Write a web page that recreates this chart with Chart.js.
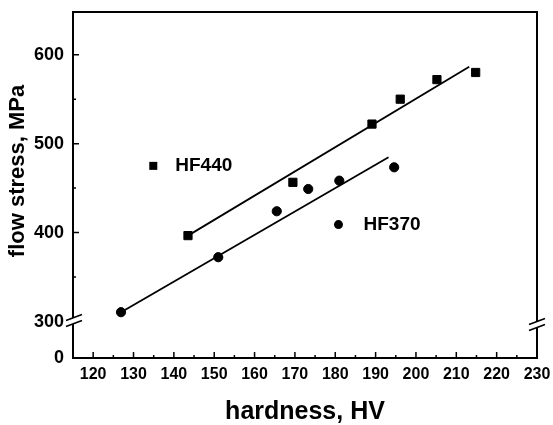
<!DOCTYPE html>
<html>
<head>
<meta charset="utf-8">
<script src="https://cdn.jsdelivr.net/npm/chart.js@4.4.0/dist/chart.umd.min.js"></script>
<style>
  html, body { margin: 0; padding: 0; background: #fff; }
</style>
</head>
<body>
<canvas id="chart" width="553" height="425"></canvas>
<script>
// valores
const seriesLabels = ["HF440", "HF370"];
const hf440Hardness = [143.5, 169.5, 189.1, 196.1, 205.2, 214.8];
const hf440Stress = [396.6, 456.5, 522, 550, 572, 580];
const hf370Hardness = [126.9, 151.0, 165.5, 173.3, 181.0, 194.6];
const hf370Stress = [310.5, 372.3, 424, 449, 458.4, 473.4];
// retas de ajuste (extremos)
const fit440Hardness = [143.5, 213.2];
const fit440Stress = [396.6, 586.5];
const fit370Hardness = [126.9, 193.2];
const fit370Stress = [310.5, 484.6];
// eixos
const xTickValues = [120, 130, 140, 150, 160, 170, 180, 190, 200, 210, 220, 230];
const yTickValues = [300, 400, 500, 600];
const X_MIN = 115, X_MAX = 230;
const Y_MIN = 259, Y_MAX = 648;   // eixo quebrado: o fundo vale "0"
const Y_BREAK = 300;

// posição das legendas internas (em unidades de dados)
const legendPos = [{ x: 134.9, y: 475, dx: 22 }, { x: 180.8, y: 409, dx: 25 }];

const FONT = "'Liberation Sans', Arial, sans-serif";
Chart.defaults.font.family = FONT;
Chart.defaults.color = "#000";

const toPoints = (xs, ys) => xs.map((x, i) => ({ x: x, y: ys[i] }));

const framePlugin = {
  id: "frame",
  afterDraw(chart) {
    const { ctx, chartArea: a, scales: { x, y } } = chart;
    ctx.save();
    ctx.strokeStyle = "#000";
    ctx.lineWidth = 2;
    ctx.strokeRect(a.left, a.top, a.right - a.left, a.bottom - a.top);

    // ticks para dentro
    ctx.lineWidth = 1.5;
    ctx.beginPath();
    for (let v = 120; v < X_MAX; v += 5) {
      const px = x.getPixelForValue(v);
      const len = v % 10 === 0 ? 6 : 3;
      ctx.moveTo(px, a.bottom);
      ctx.lineTo(px, a.bottom - len);
    }
    for (let v = 350; v < Y_MAX; v += 50) {
      const py = y.getPixelForValue(v);
      const len = v % 100 === 0 ? 6 : 3;
      ctx.moveTo(a.left, py);
      ctx.lineTo(a.left + len, py);
    }
    ctx.stroke();

    // quebras do eixo y
    const drawBreak = (cx, cy) => {
      ctx.fillStyle = "#fff";
      ctx.beginPath();
      ctx.moveTo(cx - 8, cy - 1);
      ctx.lineTo(cx + 8, cy - 7);
      ctx.lineTo(cx + 8, cy - 1);
      ctx.lineTo(cx - 8, cy + 5);
      ctx.closePath();
      ctx.fill();
      ctx.lineWidth = 1.6;
      ctx.beginPath();
      ctx.moveTo(cx - 8, cy - 1);
      ctx.lineTo(cx + 8, cy - 7);
      ctx.moveTo(cx - 8, cy + 5);
      ctx.lineTo(cx + 8, cy - 1);
      ctx.stroke();
    };
    const yb = y.getPixelForValue(Y_BREAK);
    drawBreak(a.left + 1, yb);
    drawBreak(a.right, yb + 4);

    // legendas internas
    ctx.fillStyle = "#000";
    ctx.font = "bold 19px " + FONT;
    ctx.textBaseline = "middle";
    legendPos.forEach((p, i) => {
      const px = x.getPixelForValue(p.x);
      const py = y.getPixelForValue(p.y);
      if (i === 0) {
        ctx.fillRect(px - 4, py - 4, 8, 8);
      } else {
        ctx.beginPath();
        ctx.arc(px, py, 4.5, 0, Math.PI * 2);
        ctx.fill();
      }
      ctx.fillText(seriesLabels[i], px + p.dx, py);
    });

    // título do eixo y
    ctx.translate(18, 171);
    ctx.rotate(-Math.PI / 2);
    ctx.font = "bold 22px " + FONT;
    ctx.textAlign = "center";
    ctx.fillText("flow stress, MPa", 0, 0);
    ctx.restore();
  }
};

new Chart(document.getElementById("chart"), {
  type: "scatter",
  data: {
    datasets: [
      {
        label: "HF440 fit",
        data: toPoints(fit440Hardness, fit440Stress),
        showLine: true,
        borderColor: "#000",
        borderWidth: 1.8,
        pointRadius: 0
      },
      {
        label: "HF370 fit",
        data: toPoints(fit370Hardness, fit370Stress),
        showLine: true,
        borderColor: "#000",
        borderWidth: 1.8,
        pointRadius: 0
      },
      {
        label: seriesLabels[0],
        data: toPoints(hf440Hardness, hf440Stress),
        pointStyle: "rect",
        pointRadius: 5.8,
        backgroundColor: "#000",
        borderColor: "#000"
      },
      {
        label: seriesLabels[1],
        data: toPoints(hf370Hardness, hf370Stress),
        pointStyle: "circle",
        pointRadius: 4.6,
        backgroundColor: "#000",
        borderColor: "#000"
      }
    ]
  },
  options: {
    responsive: false,
    devicePixelRatio: 1,
    animation: false,
    layout: { autoPadding: false, padding: { top: 12, right: 16, left: 0, bottom: 0 } },
    plugins: { legend: { display: false }, tooltip: { enabled: false } },
    scales: {
      x: {
        type: "linear",
        min: X_MIN,
        max: X_MAX,
        grid: { display: false, drawTicks: false, tickLength: 0 },
        border: { display: false },
        afterBuildTicks: s => { s.ticks = xTickValues.map(v => ({ value: v })); },
        afterFit: s => { s.height = 67; s.paddingLeft = 0; s.paddingRight = 0; },
        ticks: { font: { size: 16, weight: "bold" }, padding: 7, maxRotation: 0, autoSkip: false },
        title: {
          display: true,
          text: "hardness, HV",
          font: { size: 25, weight: "bold", lineHeight: 1.0 },
          padding: 0
        }
      },
      y: {
        type: "linear",
        min: Y_MIN,
        max: Y_MAX,
        grid: { display: false, drawTicks: false, tickLength: 0 },
        border: { display: false },
        afterBuildTicks: s => { s.ticks = [Y_MIN].concat(yTickValues).map(v => ({ value: v })); },
        afterFit: s => { s.width = 73; s.paddingTop = 0; s.paddingBottom = 0; },
        ticks: {
          font: { size: 18, weight: "bold" },
          padding: 9,
          autoSkip: false,
          callback: v => (v === Y_MIN ? "0" : v)
        }
      }
    }
  },
  plugins: [framePlugin]
});
</script>
</body>
</html>
